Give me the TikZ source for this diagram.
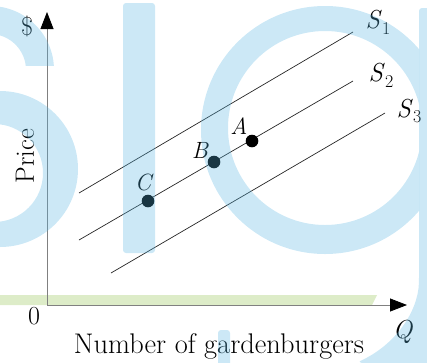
\documentclass[tikz,border=0pt]{standalone}
\usetikzlibrary{arrows.meta}
\definecolor{wmblue}{RGB}{85,180,225}
\definecolor{gbar}{RGB}{221,236,200}
\definecolor{axisgray}{RGB}{128,128,128}
\newcommand{\SSub}[1]{\textit{S}\kern0.5pt\raisebox{-0.22em}{\fontsize{18}{20}\selectfont #1}}
\begin{document}
\begin{tikzpicture}[x=1pt,y=-1pt,
  axis/.style={draw=axisgray, line width=0.8pt, -{Triangle[length=17pt,width=13pt,color=black]}},
  supply/.style={draw=black!85, line width=0.7pt},
  dot/.style={circle, fill=black, inner sep=0pt, minimum size=12.6pt},
  lbl/.style={inner sep=0pt, font=\fontsize{23.5}{28}\selectfont\itshape},
  big/.style={inner sep=0pt, font=\fontsize{26}{30}\selectfont},
  mid/.style={inner sep=0pt, font=\fontsize{26.5}{30}\selectfont},
  xl/.style={inner sep=0pt, font=\fontsize{28.4}{32}\selectfont},
  wm/.style={fill=wmblue, fill opacity=0.3}]
\useasboundingbox (0,0) rectangle (427,362);
% light green bar
\fill[gbar] (0,295) -- (377,295) -- (372,305) -- (0,305) -- cycle;
% axes
\coordinate (O) at (47,305);
\coordinate (Ytop) at (47,12);
\coordinate (Xend) at (407,305);
\draw[axis] (O) -- (Ytop);
\draw[axis] (O) -- (Xend);
% supply curves
\coordinate (s1a) at (79,193);  \coordinate (s1b) at (353,32);
\coordinate (s2a) at (79,240);  \coordinate (s2b) at (353,81);
\coordinate (s3a) at (111,273); \coordinate (s3b) at (385,113);
\draw[supply] (s1a) -- (s1b);
\draw[supply] (s2a) -- (s2b);
\draw[supply] (s3a) -- (s3b);
% points
\node[dot] (A) at (252,141) {};
\node[dot] (B) at (214,162) {};
\node[dot] (C) at (148,201) {};
\node[lbl] (Alab) at (239,126) {A};
\node[lbl] (Blab) at (200,150) {B};
\node[lbl] (Clab) at (143,182) {C};
% curve labels
\node[big] (S1) at (378,22) {\SSub{1}};
\node[big] (S2) at (381,75) {\SSub{2}};
\node[big] (S3) at (409,111) {\SSub{3}};
% axis labels
\node[big] (dollar) at (27,26) {\$};
\node[mid, rotate=90] (price) at (25,156) {Price};
\node[big] (zero) at (34,316) {0};
\node[big] (Q) at (403,332) {\textit{Q}};
\node[xl] (xlab) at (219,346) {Number of gardenburgers};
% watermark overlay
\begin{scope}
  \clip (0,0) rectangle (427,362);
  \begin{scope}
    \clip (-100,-10) rectangle (100,65);
    \fill[wm, even odd rule] (-10,70) circle[radius=64pt] (-10,70) circle[radius=36pt];
  \end{scope}
  \fill[wm, even odd rule] (0,169) circle[radius=78pt] (-6,173) circle[radius=49pt];
  \fill[wm, rounded corners=3pt] (123,3) rectangle (155,253);
  \fill[wm, rounded corners=3pt] (218,330) rectangle (230,380);
  \begin{scope}
    \clip (0,0) rectangle (419,362);
    \fill[wm, even odd rule] (325,130) circle[radius=124pt] (325,128) circle[radius=97pt];
  \end{scope}
  \fill[wm, rounded corners=3pt] (440,8) -- (419,8) -- (419,280)
     .. controls (418,312) and (395,345) .. (358,362) -- (440,380) -- cycle;
\end{scope}
\end{tikzpicture}
\end{document}
